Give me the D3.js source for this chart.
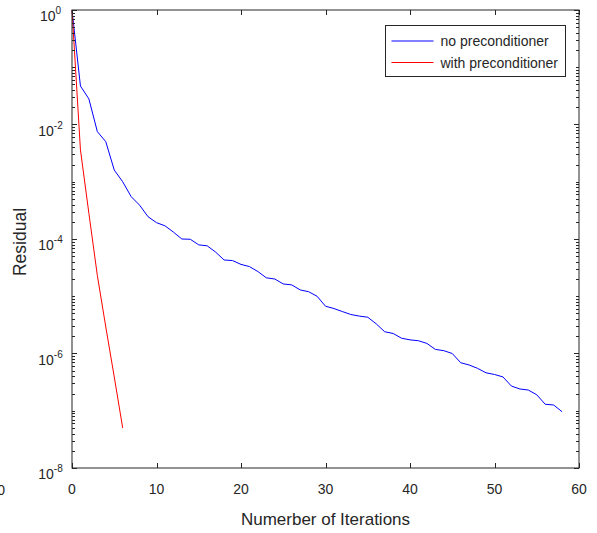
<!DOCTYPE html>
<html>
<head>
<meta charset="utf-8">
<script src="https://cdn.jsdelivr.net/npm/d3@7"></script>
<style>
  body { margin: 0; background: #fff; }
  svg { display: block; }
  text { font-family: "Liberation Sans", Arial, Helvetica, sans-serif; fill: #262626; }
</style>
</head>
<body>
<div id="chart"></div>
<script>
// residual per iteration (index = iteration number)
var noPrecond = [1, 0.047, 0.028, 0.0075, 0.005, 0.0016, 0.001, 5.5e-4, 3.9e-4, 2.45e-4,
  1.93e-4, 1.7e-4, 1.32e-4, 1.0e-4, 9.9e-5, 7.9e-5, 7.6e-5, 5.9e-5, 4.3e-5, 4.2e-5,
  3.6e-5, 3.3e-5, 2.7e-5, 2.1e-5, 2.0e-5, 1.64e-5, 1.58e-5, 1.29e-5, 1.2e-5, 1.0e-5,
  6.7e-6, 6.1e-6, 5.4e-6, 4.8e-6, 4.5e-6, 4.3e-6, 3.3e-6, 2.4e-6, 2.24e-6, 1.85e-6,
  1.73e-6, 1.67e-6, 1.5e-6, 1.18e-6, 1.12e-6, 1.0e-6, 6.9e-7, 6.3e-7, 5.5e-7, 4.6e-7,
  4.3e-7, 3.9e-7, 2.7e-7, 2.4e-7, 2.3e-7, 1.9e-7, 1.3e-7, 1.26e-7, 9.6e-8];
var withPrecond = [1, 3.6e-3, 2.8e-4, 2.3e-5, 2.9e-6, 3.9e-7, 5.0e-8];

var xTicks = [0, 10, 20, 30, 40, 50, 60];
var yTickExp = [0, -2, -4, -6, -8];
var seriesNames = ["no preconditioner", "with preconditioner"];
var seriesColors = ["#0000ff", "#ff0000"];

var W = 597, H = 533;
var margin = {top: 10, right: 18, bottom: 65, left: 72};
var pw = W - margin.left - margin.right;
var ph = H - margin.top - margin.bottom;

var svg = d3.select("#chart").append("svg")
  .attr("width", W)
  .attr("height", H);

var g = svg.append("g")
  .attr("transform", "translate(" + margin.left + "," + margin.top + ")");

var x = d3.scaleLinear().domain([0, 60]).range([0, pw]);
var y = d3.scaleLog().domain([1e-8, 1]).range([ph, 0]);

var axisColor = "#262626";

// lines
var line = d3.line()
  .x(function(d, i) { return x(i); })
  .y(function(d) { return y(d); });

[noPrecond, withPrecond].forEach(function(s, k) {
  g.append("path")
    .datum(s)
    .attr("fill", "none")
    .attr("stroke", seriesColors[k])
    .attr("stroke-width", 1)
    .attr("d", line);
});

// box
g.append("rect")
  .attr("x", 0).attr("y", 0)
  .attr("width", pw).attr("height", ph)
  .attr("fill", "none")
  .attr("stroke", axisColor)
  .attr("stroke-width", 1);

// x ticks (inward, top and bottom)
xTicks.forEach(function(t) {
  var px = Math.round(x(t)) + 0.5;
  g.append("line").attr("x1", px).attr("x2", px).attr("y1", ph).attr("y2", ph - 5)
    .attr("stroke", axisColor);
  g.append("line").attr("x1", px).attr("x2", px).attr("y1", 0).attr("y2", 5)
    .attr("stroke", axisColor);
  g.append("text")
    .attr("x", x(t)).attr("y", ph + 26)
    .attr("text-anchor", "middle")
    .attr("font-size", 14)
    .text(t);
});

// y ticks: minor at each k*10^d, major at labelled decades
for (var d = -8; d <= 0; d++) {
  for (var k = 1; k <= 9; k++) {
    var v = k * Math.pow(10, d);
    if (v > 1) continue;
    var py = Math.round(y(v)) + 0.5;
    var len = (k === 1 && yTickExp.indexOf(d) >= 0) ? 5 : 3;
    g.append("line").attr("x1", 0).attr("x2", len).attr("y1", py).attr("y2", py)
      .attr("stroke", axisColor);
    g.append("line").attr("x1", pw).attr("x2", pw - len).attr("y1", py).attr("y2", py)
      .attr("stroke", axisColor);
  }
}

yTickExp.forEach(function(e) {
  var t = g.append("text")
    .attr("x", -21.5).attr("y", y(Math.pow(10, e)) + 11)
    .attr("text-anchor", "middle")
    .attr("font-size", 14);
  t.append("tspan").text("10");
  t.append("tspan").attr("font-size", 10).attr("dy", -7).text(e);
});

// axis labels
svg.append("text")
  .attr("x", margin.left + pw / 2).attr("y", 525)
  .attr("text-anchor", "middle")
  .attr("font-size", 17)
  .text("Numerber of Iterations");

svg.append("text")
  .attr("transform", "translate(26," + (margin.top + ph / 2 + 3) + ") rotate(-90)")
  .attr("text-anchor", "middle")
  .attr("font-size", 17.5)
  .text("Residual");

// stray clipped label at left edge
svg.append("text")
  .attr("x", 5).attr("y", 495)
  .attr("text-anchor", "end")
  .attr("font-size", 14)
  .text("0");

// legend
var lg = svg.append("g").attr("transform", "translate(385.5,25.5)");
lg.append("rect")
  .attr("width", 180).attr("height", 51)
  .attr("fill", "#fff")
  .attr("stroke", axisColor)
  .attr("stroke-width", 1);
seriesNames.forEach(function(n, i) {
  var ly = 15.5 + i * 21.5;
  lg.append("line")
    .attr("x1", 6).attr("x2", 48).attr("y1", ly).attr("y2", ly)
    .attr("stroke", seriesColors[i]).attr("stroke-width", 1);
  lg.append("text")
    .attr("x", 55).attr("y", ly + 5)
    .attr("font-size", 14)
    .text(n);
});
</script>
</body>
</html>
